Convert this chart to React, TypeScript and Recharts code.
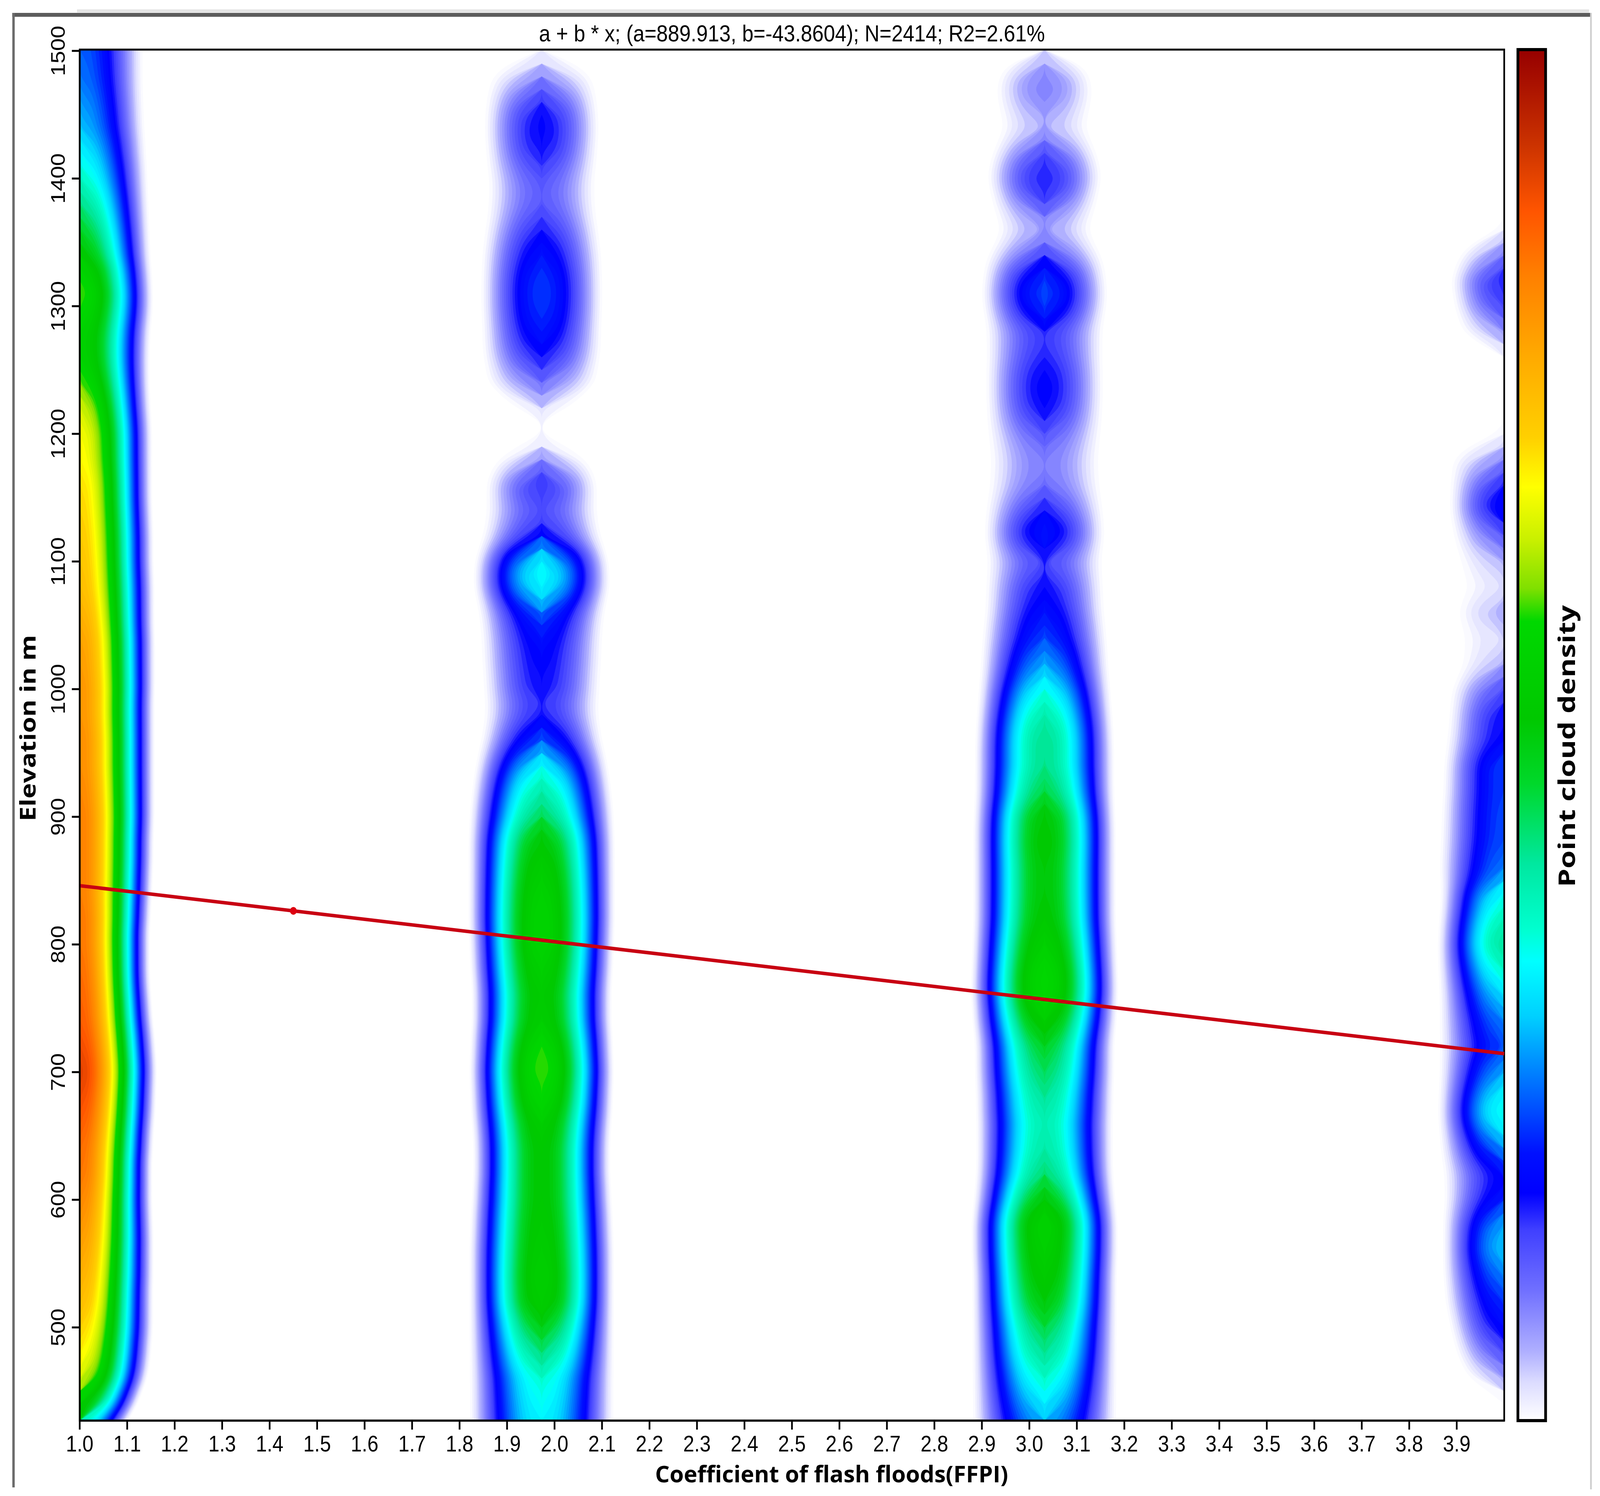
import React from 'react';
import { ComposedChart, BarChart, Bar, Area, XAxis, YAxis, ReferenceLine, ReferenceDot, ReferenceArea } from 'recharts';

const TITLE = 'a + b * x; (a=889.913, b=-43.8604); N=2414; R2=2.61%';
const X_LABEL = 'Coefficient of flash floods(FFPI)';
const Y_LABEL = 'Elevation in m';
const BAR_LABEL = 'Point cloud density';
const REG_A = 889.913;
const REG_B = -43.8604;
const X_DOMAIN = [1, 4];
const Y_DOMAIN = [427, 1501];
const X_TICKS = [1.0,1.1,1.2,1.3,1.4,1.5,1.6,1.7,1.8,1.9,2.0,2.1,2.2,2.3,2.4,2.5,2.6,2.7,2.8,2.9,3.0,3.1,3.2,3.3,3.4,3.5,3.6,3.7,3.8,3.9];
const Y_TICKS = [500,600,700,800,900,1000,1100,1200,1300,1400,1500];

// elevation rows of the density read-off
const ELEV = [427,
  440,450,460,470,480,490,500,510,520,530,
  540,550,560,570,580,590,600,610,620,630,
  640,650,660,670,680,690,700,710,720,730,
  740,750,760,770,780,790,800,810,820,830,
  840,850,860,870,880,890,900,910,920,930,
  940,950,960,970,980,990,1000,1010,1020,1030,
  1040,1050,1060,1070,1080,1090,1100,1110,1120,1130,
  1140,1150,1160,1170,1180,1190,1200,1210,1220,1230,
  1240,1250,1260,1270,1280,1290,1300,1310,1320,1330,
  1340,1350,1360,1370,1380,1390,1400,1410,1420,1430,
  1440,1450,1460,1470,1480,1490,1501];

// density on the ridge of each column (0..1 on the colour bar) and half width of its footprint
const D1 = [.38,
  .52,.58,.64,.67,.69,.705,.72,.735,.75,.76,
  .77,.78,.79,.80,.81,.82,.83,.84,.85,.855,
  .86,.87,.88,.89,.90,.91,.915,.91,.90,.89,
  .88,.875,.87,.865,.86,.855,.85,.85,.85,.845,
  .84,.84,.84,.84,.84,.84,.84,.835,.83,.825,
  .82,.82,.82,.815,.81,.81,.81,.805,.80,.795,
  .79,.78,.77,.76,.75,.745,.74,.735,.73,.725,
  .72,.715,.71,.70,.69,.685,.68,.665,.65,.625,
  .60,.575,.56,.555,.56,.575,.59,.60,.58,.56,
  .52,.495,.47,.445,.42,.395,.37,.35,.33,.31,
  .29,.28,.27,.26,.25,.245,.24];
const H1 = [.105,
  .125,.135,.145,.15,.153,.155,.157,.157,.157,.157,
  .158,.158,.158,.158,.157,.156,.155,.155,.155,.155,
  .157,.158,.16,.162,.163,.164,.165,.164,.162,.16,
  .157,.155,.153,.151,.15,.15,.15,.15,.152,.153,
  .155,.156,.157,.158,.158,.159,.16,.16,.16,.16,
  .16,.16,.16,.16,.16,.16,.161,.161,.161,.161,
  .161,.16,.16,.16,.16,.159,.158,.158,.158,.157,
  .156,.155,.155,.155,.155,.155,.155,.154,.152,.151,
  .15,.15,.15,.151,.152,.155,.157,.157,.156,.154,
  .152,.151,.15,.149,.148,.147,.146,.145,.143,.142,
  .14,.139,.138,.137,.137,.137,.137];
const D2 = [.33,
  .34,.35,.36,.39,.42,.45,.48,.51,.54,.545,
  .55,.545,.54,.535,.53,.525,.52,.52,.52,.52,
  .52,.53,.54,.56,.58,.59,.60,.595,.58,.56,
  .54,.535,.53,.54,.55,.56,.57,.57,.57,.565,
  .56,.55,.54,.525,.51,.48,.44,.415,.39,.36,
  .32,.27,.22,.185,.155,.15,.165,.17,.175,.18,
  .19,.205,.23,.28,.32,.335,.31,.25,.17,.14,
  .125,.14,.145,.11,.06,.015,0,0,.02,.055,
  .09,.125,.155,.178,.195,.208,.215,.218,.215,.205,
  .19,.175,.155,.135,.118,.113,.122,.14,.16,.17,
  .172,.165,.14,.105,.065,.025,0];
const H2 = [.155,
  .155,.155,.155,.155,.155,.155,.155,.155,.155,.155,
  .155,.155,.155,.154,.153,.152,.15,.149,.147,.147,
  .147,.148,.15,.152,.153,.154,.155,.154,.153,.152,
  .15,.15,.15,.151,.153,.154,.155,.156,.157,.157,
  .157,.157,.157,.157,.157,.156,.155,.153,.15,.147,
  .143,.138,.132,.128,.125,.125,.127,.128,.13,.131,
  .132,.134,.137,.142,.147,.147,.145,.138,.13,.125,
  .122,.122,.122,.115,.10,.07,0,0,.065,.095,
  .12,.124,.128,.13,.13,.131,.132,.132,.132,.131,
  .13,.127,.124,.12,.118,.117,.117,.12,.122,.124,
  .125,.124,.122,.118,.112,.085,0];
const D3 = [.28,
  .31,.335,.36,.385,.41,.43,.45,.475,.50,.515,
  .53,.54,.55,.555,.56,.54,.50,.465,.43,.415,
  .40,.395,.39,.40,.41,.425,.44,.455,.47,.50,
  .53,.56,.58,.585,.58,.565,.55,.535,.52,.515,
  .51,.51,.51,.515,.52,.515,.51,.48,.45,.435,
  .42,.42,.42,.41,.39,.365,.335,.30,.27,.245,
  .22,.205,.19,.175,.165,.145,.13,.165,.192,.185,
  .155,.125,.10,.09,.09,.10,.12,.145,.165,.174,
  .175,.168,.155,.145,.145,.18,.21,.222,.21,.175,
  .125,.085,.06,.08,.115,.15,.16,.15,.12,.08,
  .05,.06,.078,.088,.08,.045,0];
const H3 = [.155,
  .155,.155,.155,.155,.155,.155,.155,.155,.155,.155,
  .155,.156,.157,.157,.157,.155,.152,.15,.148,.147,
  .147,.147,.147,.148,.148,.149,.15,.15,.15,.152,
  .155,.156,.158,.158,.157,.156,.155,.154,.153,.153,
  .153,.153,.153,.153,.153,.153,.152,.151,.15,.15,
  .15,.15,.149,.148,.146,.144,.142,.14,.138,.137,
  .135,.133,.13,.129,.128,.127,.126,.128,.131,.13,
  .128,.125,.122,.121,.12,.122,.124,.126,.127,.128,
  .128,.128,.127,.128,.128,.131,.135,.137,.135,.132,
  .125,.112,.102,.108,.115,.12,.125,.122,.115,.105,
  .096,.1,.105,.107,.102,.085,0];
const D4 = [0,
  0,.01,.05,.085,.12,.15,.175,.195,.21,.23,
  .25,.27,.29,.285,.27,.235,.20,.18,.175,.21,
  .25,.29,.33,.345,.33,.30,.27,.245,.22,.235,
  .25,.275,.30,.33,.36,.39,.41,.40,.38,.355,
  .33,.28,.25,.24,.23,.226,.225,.222,.22,.22,
  .22,.20,.175,.17,.165,.145,.12,.085,.05,.035,
  .03,.042,.055,.04,.025,.035,.05,.08,.11,.145,
  .18,.175,.15,.11,.07,.03,.005,0,0,0,
  0,0,0,.025,.06,.095,.13,.15,.155,.12,
  .08,.04,.005,0,0,0,0,0,0,0,
  0,0,0,0,0,0,0];
const H4 = [0,
  0,.05,.08,.095,.105,.112,.118,.123,.128,.13,
  .132,.133,.133,.133,.133,.132,.13,.131,.132,.135,
  .138,.14,.142,.143,.142,.141,.14,.14,.14,.14,
  .14,.14,.14,.141,.142,.143,.143,.142,.14,.138,
  .137,.138,.14,.139,.138,.137,.136,.135,.133,.132,
  .131,.128,.125,.122,.12,.118,.115,.105,.095,.095,
  .095,.1,.105,.098,.09,.095,.1,.106,.112,.116,
  .119,.119,.118,.117,.115,.09,.05,0,0,0,
  0,0,0,.06,.095,.103,.11,.114,.117,.11,
  .1,.075,.04,0,0,0,0,0,0,0,
  0,0,0,0,0,0,0];
const COLUMNS = [
  { name: 'c1', centre: 1.0, density: D1, half: H1 },
  { name: 'c2', centre: 1.973, density: D2, half: H2 },
  { name: 'c3', centre: 3.032, density: D3, half: H3 },
  { name: 'c4', centre: 4.0, density: D4, half: H4 },
];

// colour bar: position 0..1 and colour
const STOP_POS = [0,.007,.028,.05,.095,.139,.166,.195,.228,.262,.295,.335,.358,.406,.465,.512,.583,.607,.642,.681,.717,.776,.835,.882,.93,.977,1];
const STOP_COL = ['#ffffff','#f6f6ff','#dcdcff','#b0b0ff','#7070ff','#4040ff','#0000ff','#0010ff','#0050ff','#0090ff','#00d0ff','#00ffff','#00ffd0','#00e8a0','#00d82a','#00c800','#00d800','#80e000','#c8f000','#ffff00','#ffd000','#ffaa00','#ff8000','#ff5500','#cc3300','#a81000','#960000'];

const LEVELS = [.004,.012,.02,.03,.04,.05,.06,.07,.08,.09,.1,.11,.12,.13,.14,.15,.16,.17,.18,.19,.2,.21,.22,.23,.24,.25,.26,.27,.28,.29,.3,.31,.32,.33,.34,.35,.36,.37,.38,.39,.4,.41,.42,.43,.44,.45,.46,.47,.48,.49,.5,.51,.52,.53,.54,.55,.56,.57,.58,.59,.6,.61,.62,.63,.64,.65,.66,.67,.68,.69,.7,.71,.72,.73,.74,.75,.76,.77,.78,.79,.8,.81,.82,.83,.84,.85,.86,.87,.88,.89,.9,.91];

const rows = ELEV.map((elev, i) => ({ elev, i }));

function colourAt(v: number) {
  let k = 0;
  while (k < STOP_POS.length - 2 && v > STOP_POS[k + 1]) k++;
  const t = (v - STOP_POS[k]) / (STOP_POS[k + 1] - STOP_POS[k]);
  const a = STOP_COL[k], b = STOP_COL[k + 1];
  const ch = (s: string, o: number) => parseInt(s.slice(o, o + 2), 16);
  const mix = (o: number) => Math.round(ch(a, o) + (ch(b, o) - ch(a, o)) * t);
  return `rgb(${mix(1)},${mix(3)},${mix(5)})`;
}

function band(col: any, level: number, i: number) {
  const d = col.density[i];
  const clamp = (v: number) => Math.max(X_DOMAIN[0], Math.min(X_DOMAIN[1], v));
  if (d >= level) {
    const w = col.half[i] * Math.sqrt(1 - Math.pow(level / d, 2 / 3));
    return [clamp(col.centre - w), clamp(col.centre + w)];
  }
  if ((col.density[i - 1] ?? 0) >= level || (col.density[i + 1] ?? 0) >= level) return [clamp(col.centre), clamp(col.centre)];
  return [null, null];
}

const XTick = (p: any) => (
  <text x={p.x} y={3716} textAnchor="middle" fontFamily="Liberation Sans" fontSize={58} fill="#000">{Number(p.payload.value).toFixed(1)}</text>
);
const YTick = (p: any) => (
  <text transform={`translate(189,${p.y}) rotate(-90)`} textAnchor="middle" fontFamily="Liberation Sans" fontSize={58} fill="#000">{p.payload.value}</text>
);

const frame = (s: any) => <div style={{ position: 'absolute', ...s }} />;

// the browser window is only 4096 wide, so the 4677-wide layout is fitted into it horizontally
const WINDOW_FIT = 4096 / 4677;

export default function App() {
  return (
    <div style={{ position: 'relative', marginLeft: -8, marginTop: -8, width: 4096, height: 3830, background: '#fff', overflow: 'hidden' }}>
      <div style={{ position: 'absolute', left: 0, top: 0, width: 4677, height: 3830, transform: `scaleX(${WINDOW_FIT})`, transformOrigin: '0 0' }}>
        {frame({ left: 225, top: 24, width: 4420, height: 8, background: '#e4e4e4' })}
        {frame({ left: 36, top: 33, width: 4615, height: 10, background: '#5c5c5c' })}
        {frame({ left: 36, top: 33, width: 7, height: 3775, background: '#6a6a6a' })}
        {frame({ left: 4648, top: 33, width: 5, height: 3780, background: '#cfcfcf' })}
        <div style={{ position: 'absolute', left: 0, top: 0 }}>
          <ComposedChart width={4677} height={3830} data={rows} layout="vertical" margin={{ top: 127, right: 280, left: 0, bottom: 0 }}>
            <XAxis type="number" domain={X_DOMAIN} ticks={X_TICKS} allowDataOverflow height={193} interval={0}
              tick={XTick} tickSize={23} tickLine={{ stroke: '#000', strokeWidth: 5 }} axisLine={{ stroke: '#000', strokeWidth: 5 }} />
            <YAxis type="number" dataKey="elev" domain={Y_DOMAIN} ticks={Y_TICKS} allowDataOverflow width={233} interval={0} reversed
              tick={YTick} tickSize={23} tickLine={{ stroke: '#000', strokeWidth: 5 }} axisLine={{ stroke: '#000', strokeWidth: 5 }} />
            {COLUMNS.flatMap((col) => {
              const top = Math.max(...col.density);
              return LEVELS.filter((l) => l <= top).map((l) => (
                <Area key={`${col.name}-${l}`} dataKey={(r: any) => band(col, l, r.i)} type="basis" stroke="none" fill={colourAt(l)} fillOpacity={1}
                  dot={false} activeDot={false} isAnimationActive={false} legendType="none" />
              ));
            })}
            <ReferenceArea x1={X_DOMAIN[0]} x2={X_DOMAIN[1]} y1={Y_DOMAIN[0]} y2={Y_DOMAIN[1]} fill="none" stroke="#000" strokeWidth={5} ifOverflow="visible" />
            <ReferenceLine segment={[{ x: X_DOMAIN[0], y: REG_A + REG_B * X_DOMAIN[0] }, { x: X_DOMAIN[1], y: REG_A + REG_B * X_DOMAIN[1] }]} stroke="#c80012" strokeWidth={9} ifOverflow="visible" />
            <ReferenceDot x={1.45} y={REG_A + REG_B * 1.45} r={10} fill="#dd0010" stroke="none" ifOverflow="visible" />
            <text x={2315} y={106} textAnchor="middle" fontFamily="Liberation Sans" fontSize={60} fill="#000">{TITLE}</text>
            <text x={2431} y={3795} textAnchor="middle" fontFamily="Open Sans" fontWeight={700} fontSize={60} textLength={1032} lengthAdjust="spacingAndGlyphs" fill="#000">{X_LABEL}</text>
            <text transform="translate(104,1864) rotate(-90)" textAnchor="middle" fontFamily="Open Sans" fontWeight={700} fontSize={64} textLength={477} lengthAdjust="spacingAndGlyphs" fill="#000">{Y_LABEL}</text>
            <text transform="translate(4604,1910) rotate(-90)" textAnchor="middle" fontFamily="Open Sans" fontWeight={700} fontSize={68} textLength={722} lengthAdjust="spacingAndGlyphs" fill="#000">{BAR_LABEL}</text>
          </ComposedChart>
        </div>
        <div style={{ position: 'absolute', left: 4417, top: 107 }}>
          <BarChart width={121} height={3550} data={[{ name: 'density', v: 1 }]} margin={{ top: 20, right: 20, left: 20, bottom: 20 }} barCategoryGap={0}>
            <defs>
              <linearGradient id="densityBar" x1="0" y1="1" x2="0" y2="0">
                {STOP_POS.map((p, i) => <stop key={i} offset={p} stopColor={STOP_COL[i]} />)}
              </linearGradient>
            </defs>
            <XAxis dataKey="name" hide />
            <YAxis domain={[0, 1]} hide />
            <Bar dataKey="v" fill="url(#densityBar)" stroke="#000" strokeWidth={8} isAnimationActive={false} />
          </BarChart>
        </div>
      </div>
    </div>
  );
}
